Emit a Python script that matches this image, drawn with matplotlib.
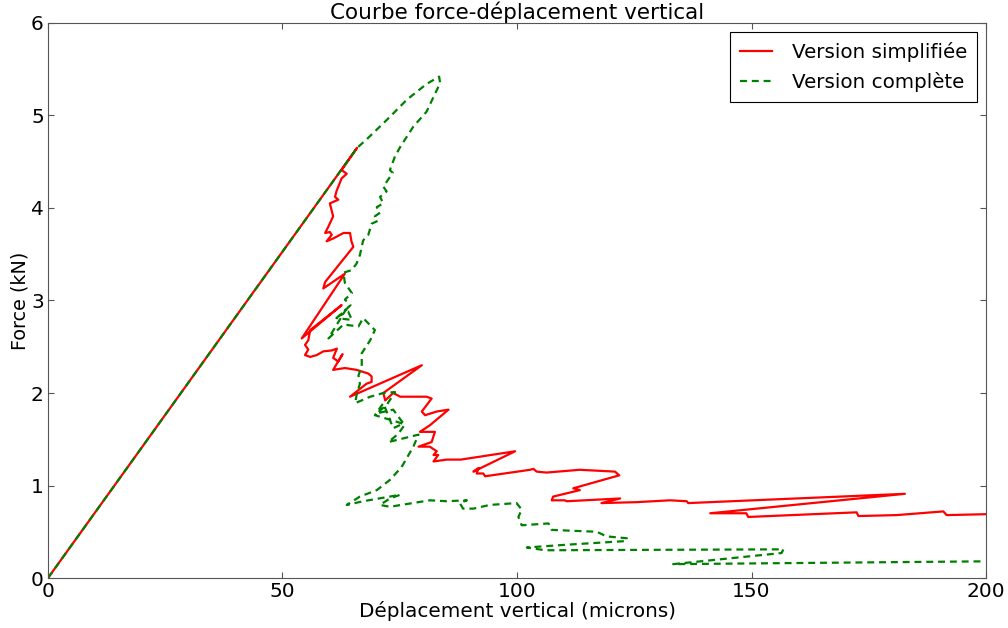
"""Courbe force-déplacement vertical : version simplifiée vs version complète."""

import matplotlib

matplotlib.use("Agg")
import matplotlib.pyplot as plt

plt.rcParams["lines.scale_dashes"] = False

# Version simplifiée (déplacement en microns, force en kN)
simple_x = [0.0, 65.9, 62.6, 63.7, 62.6, 61.5, 61.2, 61.9, 60.1, 60.8, 59.8, 59.1, 60.1,
            60.5, 59.4, 60.8, 63.0, 64.4, 64.7, 65.1, 59.1, 58.7, 63.3, 54.1, 62.6, 55.9,
            55.5, 54.8, 55.5, 54.8, 55.9, 57.3, 58.7, 60.5, 61.6, 60.8, 61.9, 62.8, 60.8,
            63.3, 65.8, 68.3, 69.0, 69.0, 67.9, 64.4, 79.7, 71.5, 71.9, 73.6, 75.1, 77.5,
            80.7, 81.8, 79.7, 80.4, 82.9, 85.4, 81.4, 79.3, 82.5, 81.8, 79.0, 81.4, 82.9,
            82.2, 83.2, 82.2, 85.0, 88.0, 99.6, 90.7, 91.8, 91.4, 92.8, 93.2, 102.8, 103.5,
            104.2, 106.3, 113.4, 120.9, 121.8, 113.4, 112.0, 113.4, 107.7, 107.4, 110.2,
            110.6, 122.0, 118.0, 125.5, 132.6, 136.2, 136.5, 182.7, 141.2, 148.9, 149.3,
            172.4, 172.8, 180.9, 190.9, 191.6, 200.0, 204.0]
simple_f = [0.0, 4.65, 4.41, 4.37, 4.32, 4.18, 4.12, 4.09, 4.05, 3.91, 3.80, 3.73, 3.74,
            3.71, 3.64, 3.67, 3.73, 3.73, 3.64, 3.58, 3.20, 3.13, 3.29, 2.59, 2.95, 2.68,
            2.57, 2.52, 2.47, 2.41, 2.39, 2.41, 2.45, 2.46, 2.48, 2.38, 2.34, 2.42, 2.25,
            2.27, 2.25, 2.21, 2.18, 2.12, 2.10, 1.96, 2.30, 2.00, 1.92, 2.00, 1.96, 1.96,
            1.96, 1.94, 1.80, 1.76, 1.80, 1.82, 1.65, 1.58, 1.58, 1.47, 1.42, 1.42, 1.37,
            1.33, 1.33, 1.26, 1.28, 1.28, 1.37, 1.15, 1.19, 1.13, 1.13, 1.10, 1.17, 1.18,
            1.15, 1.14, 1.17, 1.15, 1.11, 0.99, 0.97, 0.95, 0.88, 0.84, 0.84,
            0.83, 0.86, 0.81, 0.82, 0.84, 0.83, 0.81, 0.91, 0.70, 0.70, 0.66,
            0.71, 0.67, 0.68, 0.72, 0.68, 0.69, 0.69]

# Version complète
full_x = [0.0, 65.9, 67.9, 72.2, 76.5, 80.7, 83.4, 83.6, 80.7, 77.9, 75.1, 74.0, 72.9,
          73.5, 71.5, 72.2, 70.8, 71.5, 70.1, 70.8, 69.7, 70.3, 69.0, 68.3, 67.2, 66.5,
          65.8, 64.8, 63.0, 63.3, 64.8, 63.3, 64.5, 62.3, 64.0, 64.8, 61.5, 63.5, 59.8,
          63.0, 66.2, 67.2, 69.7, 68.7, 66.9, 66.9, 66.2, 66.5, 65.8, 65.5, 68.7, 71.5,
          74.0, 72.2, 70.1, 73.6, 75.8, 73.6, 71.5, 69.7, 74.3, 76.1, 74.7, 72.6, 79.0,
          77.9, 75.4, 72.9, 70.1, 66.5, 63.7, 67.2, 75.1, 72.9, 70.8, 72.9, 81.4, 85.0,
          89.3, 87.8, 88.5, 90.7, 94.2, 99.9, 101.0, 100.3, 101.0, 106.7, 107.4, 117.0,
          119.1, 123.4, 123.4, 110.6, 102.1, 106.0, 156.8, 156.4, 133.3, 199.1]
full_f = [0.0, 4.65, 4.74, 4.95, 5.17, 5.34, 5.42, 5.35, 5.04, 4.88, 4.66, 4.56, 4.41,
          4.38, 4.23, 4.18, 4.12, 4.05, 4.01, 3.95, 3.91, 3.86, 3.83, 3.71, 3.65, 3.49,
          3.40, 3.33, 3.30, 3.19, 3.08, 3.01, 2.95, 2.84, 2.88, 2.79, 2.81, 2.90, 2.59,
          2.74, 2.72, 2.81, 2.68, 2.57, 2.43, 2.29, 2.19, 2.10, 1.98, 1.89, 1.96, 2.00,
          2.01, 1.87, 1.78, 1.82, 1.67, 1.62, 1.89, 1.76, 1.69, 1.66, 1.56, 1.47, 1.55,
          1.42, 1.20, 1.06, 0.95, 0.88, 0.79, 0.83, 0.90, 0.86, 0.79, 0.77, 0.84, 0.83,
          0.84, 0.81, 0.75, 0.75, 0.79, 0.81, 0.74, 0.66, 0.57, 0.59, 0.52, 0.50,
          0.45, 0.43, 0.40, 0.36, 0.33, 0.30, 0.31, 0.27, 0.15, 0.18]

fig = plt.figure(figsize=(10.08, 6.28), dpi=100)
ax = fig.add_axes([0.0476, 0.0796, 0.9306, 0.8838])

ax.plot(simple_x, simple_f, color="red", lw=1.6, label="Version simplifiée")
ax.plot(full_x, full_f, color="green", lw=1.6, dashes=(5, 3.5), label="Version complète")

ax.set_xlim(0, 200)
ax.set_ylim(0, 6)
ax.set_xticks([0, 50, 100, 150, 200])
ax.set_yticks([0, 1, 2, 3, 4, 5, 6])
ax.tick_params(direction="in", top=True, right=True, length=4, color="#555555",
               labelsize=14.5, pad=3)
for s in ax.spines.values():
    s.set_color("#555555")

ax.set_title("Courbe force-déplacement vertical", fontsize=15.5, pad=3)
ax.set_xlabel("Déplacement vertical (microns)", fontsize=14.4, labelpad=0)
ax.set_ylabel("Force (kN)", fontsize=13.8, labelpad=1)

leg = ax.legend(loc="upper right", fontsize=14.3, fancybox=False, framealpha=1,
                edgecolor="black", handlelength=1.6, handletextpad=1.0,
                borderaxespad=0.45, borderpad=0.5, labelspacing=0.5)
leg.get_frame().set_linewidth(0.8)

fig.savefig("out.png", dpi=100)
